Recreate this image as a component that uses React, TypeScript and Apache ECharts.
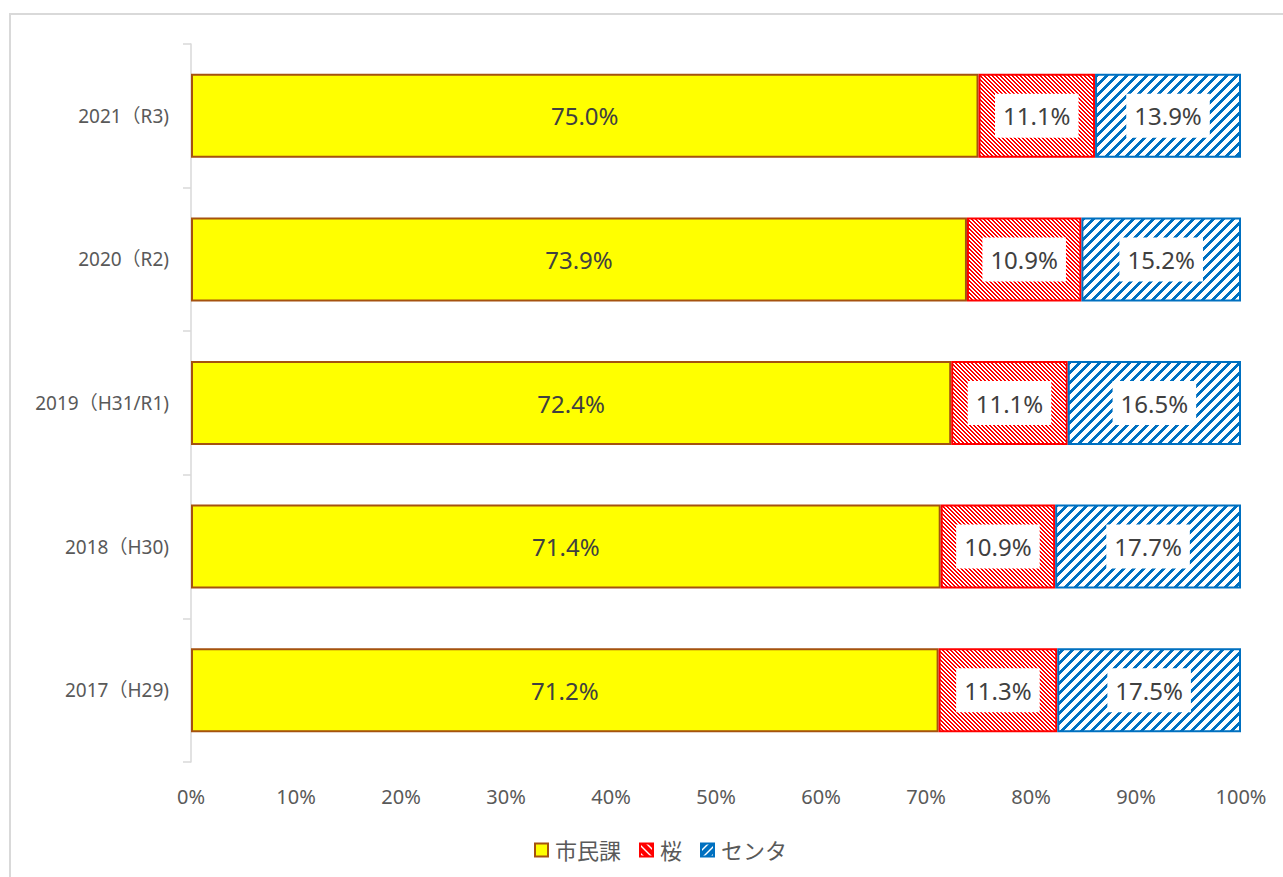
import React, { useEffect, useRef } from "react";
import * as echarts from "echarts";

const categories = ["2017（H29)", "2018（H30)", "2019（H31/R1)", "2020（R2)", "2021（R3)"];
const shiminka = [71.2, 71.4, 72.4, 73.9, 75.0];
const sakura = [11.3, 10.9, 11.1, 10.9, 11.1];
const center = [17.5, 17.7, 16.5, 15.2, 13.9];
const seriesNames = ["市民課", "桜", "センタ"];

function stripePattern(p: number, w: number, color: string, dir: "up" | "down") {
  const c = document.createElement("canvas");
  c.width = p;
  c.height = p;
  const ctx = c.getContext("2d")!;
  const img = ctx.createImageData(p, p);
  const hex = color.replace("#", "");
  const r = parseInt(hex.slice(0, 2), 16);
  const g = parseInt(hex.slice(2, 4), 16);
  const b = parseInt(hex.slice(4, 6), 16);
  for (let y = 0; y < p; y++) {
    for (let x = 0; x < p; x++) {
      const k = dir === "up" ? (x + y) % p : (((x - y) % p) + p) % p;
      const i = (y * p + x) * 4;
      if (k < w) {
        img.data[i] = r; img.data[i + 1] = g; img.data[i + 2] = b; img.data[i + 3] = 255;
      } else {
        img.data[i] = 255; img.data[i + 1] = 255; img.data[i + 2] = 255; img.data[i + 3] = 255;
      }
    }
  }
  ctx.putImageData(img, 0, 0);
  return { image: c.toDataURL(), repeat: "repeat", imageWidth: p, imageHeight: p } as any;
}

const FONT = "'Noto Sans', 'Noto Sans CJK JP', sans-serif";

export default function App() {
  const ref = useRef<HTMLDivElement>(null);
  useEffect(() => {
    const chart = echarts.init(ref.current!, null, { renderer: "svg" });
    const redPat = stripePattern(4, 2, "#FF0000", "down");
    const bluePat = stripePattern(10, 4, "#0070C0", "up");
    const redLegendPat = stripePattern(8, 6, "#FF0000", "down");
    const blueLegendPat = stripePattern(8, 6, "#0070C0", "up");
    const labelCommon = {
      show: true,
      position: "inside",
      fontSize: 24,
      fontFamily: FONT,
      color: "#404040",
      formatter: (p: any) => `${Number(p.value).toFixed(1)}%`,
    };
    chart.setOption({
      animation: false,
      backgroundColor: "#fff",
      graphic: [
        {
          type: "rect",
          shape: { x: 10, y: 14, width: 1400, height: 1000 },
          style: { fill: "none", stroke: "#d9d9d9", lineWidth: 2 },
          silent: true,
        },
      ],
      grid: { left: 191, right: 42, top: 44, bottom: 115 },
      legend: {
        data: [
          { name: seriesNames[0] },
          { name: seriesNames[1], itemStyle: { color: redLegendPat } },
          { name: seriesNames[2], itemStyle: { color: blueLegendPat } },
        ],
        left: 529,
        top: 834,
        icon: "rect",
        itemWidth: 13,
        itemHeight: 13,
        itemGap: 18,
        textStyle: { fontSize: 22, fontFamily: FONT, color: "#595959", padding: [0, 0, 0, 2] },
      },
      xAxis: {
        type: "value",
        min: 0,
        max: 100,
        interval: 10,
        axisLine: { show: false },
        axisTick: { show: false },
        splitLine: { show: false },
        axisLabel: { formatter: "{value}%", fontSize: 20, fontFamily: FONT, color: "#595959", margin: 24 },
      },
      yAxis: {
        type: "category",
        data: categories,
        axisLine: { show: true, lineStyle: { color: "#d9d9d9", width: 1.5 } },
        axisTick: { show: true, length: 8, lineStyle: { color: "#d9d9d9", width: 1.5 } },
        axisLabel: { fontSize: 19, fontFamily: FONT, color: "#595959", margin: 22 },
      },
      series: [
        {
          name: seriesNames[0],
          type: "bar",
          stack: "total",
          barWidth: 84,
          data: shiminka,
          itemStyle: { color: "#FFFF00", borderColor: "#A5520F", borderWidth: 2 },
          label: { ...labelCommon },
        },
        {
          name: seriesNames[1],
          type: "bar",
          stack: "total",
          barWidth: 84,
          data: sakura,
          itemStyle: { color: redPat, borderColor: "#FF0000", borderWidth: 2 },
          label: { ...labelCommon, backgroundColor: "#ffffff", padding: [10, 8] },
        },
        {
          name: seriesNames[2],
          type: "bar",
          stack: "total",
          barWidth: 84,
          data: center,
          itemStyle: { color: bluePat, borderColor: "#0070C0", borderWidth: 2 },
          label: { ...labelCommon, backgroundColor: "#ffffff", padding: [10, 8] },
        },
      ],
    });
    return () => chart.dispose();
  }, []);
  return (
    <div
      ref={ref}
      style={{ position: "fixed", left: 0, top: 0, width: 1283, height: 877 }}
    />
  );
}
